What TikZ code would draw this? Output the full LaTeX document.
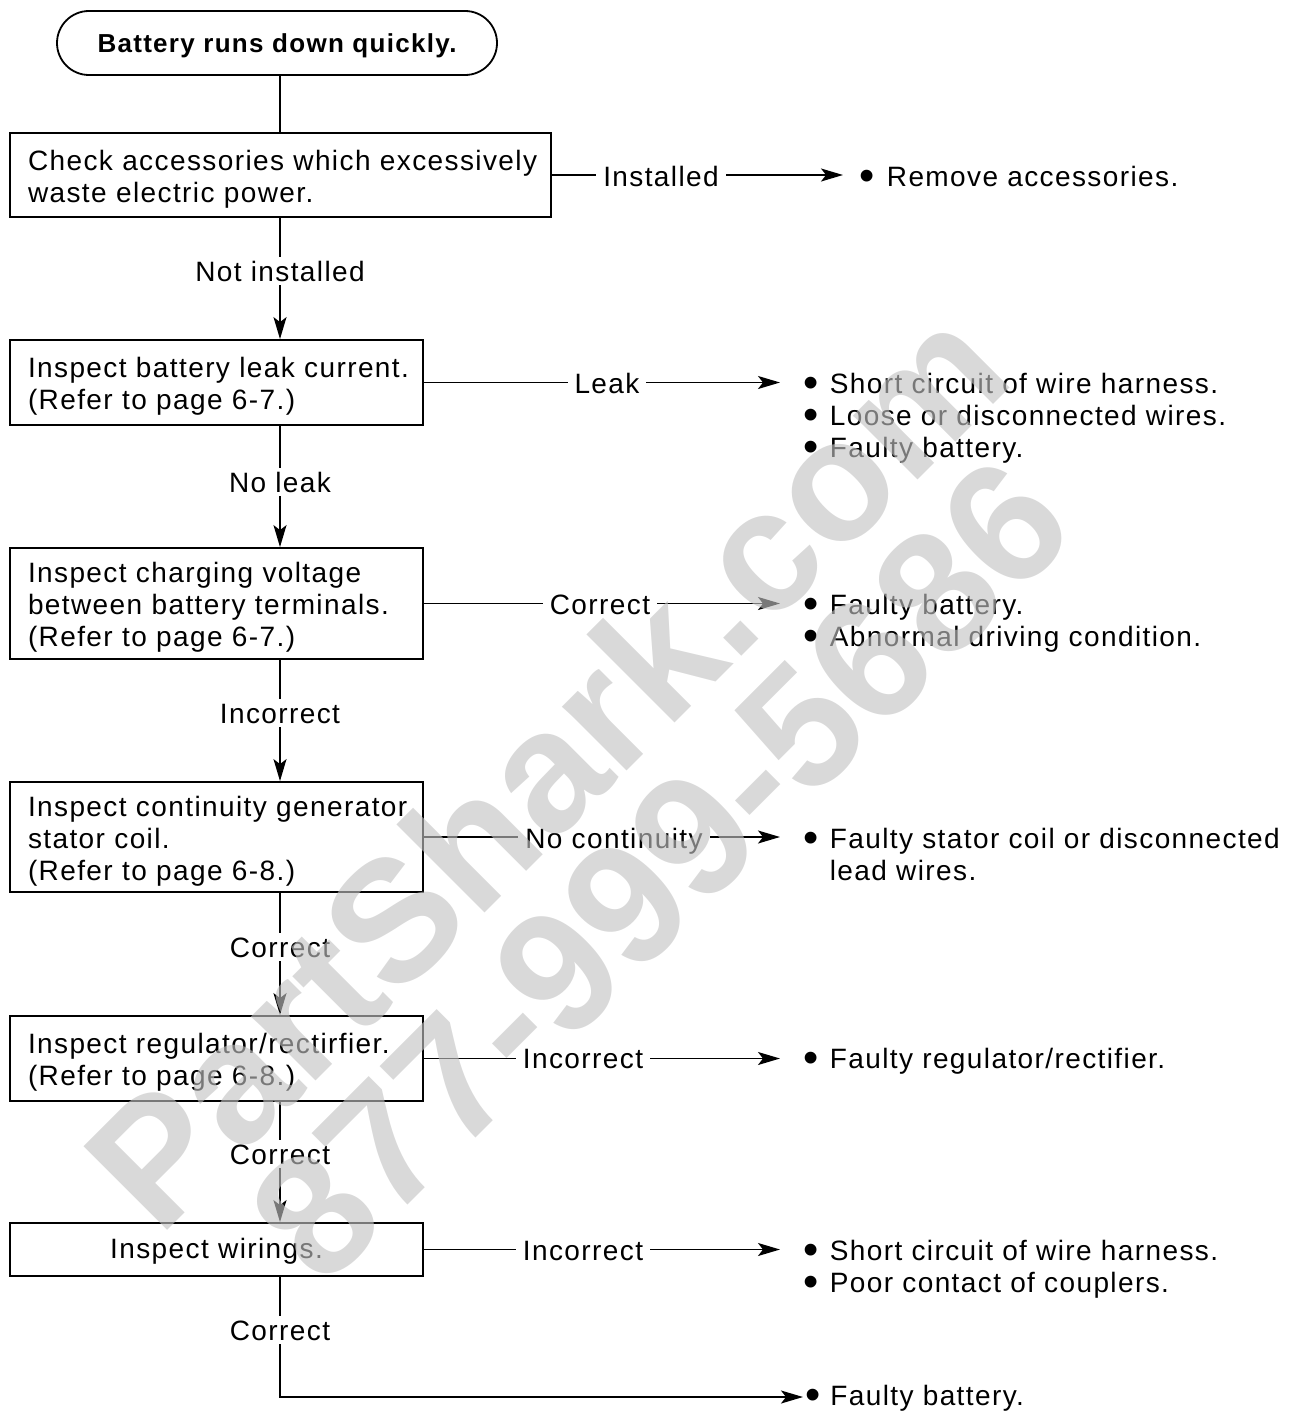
\documentclass[tikz,border=0pt]{standalone}
\usepackage{fontspec}
\usepackage{graphicx}
\setmainfont{Liberation Sans}[LetterSpace=5]
\newfontfamily\wmfont{Liberation Sans}
\usetikzlibrary{arrows.meta,calc}
\newcommand\bul{\raisebox{-4.5pt}{\scalebox{1.55}{•}}}
\newcommand\topstrut[1]{\rule{0pt}{#1}}
\begin{document}
\begin{tikzpicture}[x=1pt,y=-1pt,
  every node/.style={font=\fontsize{28}{32}\selectfont},
  box/.style={draw, line width=1.8pt, inner xsep=18pt, inner ysep=0pt, align=left},
  lbl/.style={fill=white, inner xsep=7pt, inner ysep=4pt, text height=20pt, text depth=0pt},
  conn/.style={line width=1.5pt},
  arr/.style={conn, -{Stealth[length=22pt,width=13pt,inset=5pt]}},
  res/.style={anchor=base west, inner sep=0pt},
  wm/.style={rotate=45, font=\wmfont\bfseries\fontsize{172}{172}\selectfont, text=black!24, opacity=0.62, inner sep=0pt}
]
\useasboundingbox (0,0) rectangle (1302,1413);
\coordinate (sp) at (280,0);

% title and boxes
\node[draw, line width=1.8pt, rounded corners=32pt, minimum width=440pt, minimum height=64pt,
      text height=19pt, text depth=0pt,
      font=\bfseries\fontsize{26}{30}\selectfont] (title) at (277,43) {Battery runs down quickly.};
\node[box, text width=505pt, minimum height=84pt] (b1) at (280.5,175)
  {\topstrut{28pt}\mbox{Check accessories which excessively}\\waste electric power.};
\node[box, text width=377pt, minimum height=85pt] (b2) at (216.5,382.5)
  {\topstrut{28pt}\mbox{Inspect battery leak current.}\\(Refer to page 6-7.)};
\node[box, text width=377pt, minimum height=111pt] (b3) at (216.5,603.5)
  {\topstrut{28pt}Inspect charging voltage\\\mbox{between battery terminals.}\\(Refer to page 6-7.)};
\node[box, text width=377pt, minimum height=110pt] (b4) at (216.5,837)
  {\topstrut{28pt}\mbox{Inspect continuity generator}\\stator coil.\\(Refer to page 6-8.)};
\node[box, text width=377pt, minimum height=85pt] (b5) at (216.5,1058.5)
  {\topstrut{28pt}\mbox{Inspect regulator/rectirfier.}\\(Refer to page 6-8.)};
\node[box, text width=377pt, minimum height=53pt, align=center] (b6) at (216.5,1249.5)
  {\topstrut{24pt}Inspect wirings.};

% results
\node[res] (r1) at (843,186) {\begin{tabular}[t]{@{\hspace{16.5pt}}l@{\hspace{12pt}}l@{}}\bul & Remove accessories.\end{tabular}};
\node[res] (r2) at (780,393) {\begin{tabular}[t]{@{\hspace{23.5pt}}l@{\hspace{11pt}}l@{}}\bul & Short circuit of wire harness.\\ \bul & Loose or disconnected wires.\\ \bul & Faulty battery.\end{tabular}};
\node[res] (r3) at (780,614) {\begin{tabular}[t]{@{\hspace{23.5pt}}l@{\hspace{11pt}}l@{}}\bul & Faulty battery.\\ \bul & Abnormal driving condition.\end{tabular}};
\node[res] (r4) at (780,848) {\begin{tabular}[t]{@{\hspace{23.5pt}}l@{\hspace{11pt}}l@{}}\bul & Faulty stator coil or disconnected\\ & lead wires.\end{tabular}};
\node[res] (r5) at (780,1068) {\begin{tabular}[t]{@{\hspace{23.5pt}}l@{\hspace{11pt}}l@{}}\bul & Faulty regulator/rectifier.\end{tabular}};
\node[res] (r6) at (780,1260) {\begin{tabular}[t]{@{\hspace{23.5pt}}l@{\hspace{11pt}}l@{}}\bul & Short circuit of wire harness.\\ \bul & Poor contact of couplers.\end{tabular}};
\node[res] (r7) at (803,1405) {\hspace*{2pt}\bul\hspace{10pt}Faulty battery.};

% vertical connectors
\draw[conn] (title.south -| sp) -- (b1.north -| sp);
\draw[arr] (b1.south -| sp) -- (b2.north -| sp);
\draw[arr] (b2.south -| sp) -- (b3.north -| sp);
\draw[arr] (b3.south -| sp) -- (b4.north -| sp);
\draw[arr] (b4.south -| sp) -- (b5.north -| sp);
\draw[arr] (b5.south -| sp) -- (b6.north -| sp);
\draw[arr] (b6.south -| sp) |- ($(r7.base west)+(0,-8)$);

% horizontal connectors
\draw[arr] (b1.east) -- (b1.east -| r1.west);
\draw[arr] (b2.east) -- (b2.east -| r2.west);
\draw[arr] (b3.east) -- (b3.east -| r3.west);
\draw[arr] (b4.east) -- (b4.east -| r4.west);
\draw[arr] (b5.east) -- (b5.east -| r5.west);
\draw[arr] (b6.east) -- (b6.east -| r6.west);

% labels
\node[lbl] (l1) at (280,271) {Not installed};
\node[lbl] (l2) at (280,482) {No leak};
\node[lbl] (l3) at (280,713) {Incorrect};
\node[lbl] (l4) at (280,947) {Correct};
\node[lbl] (l5) at (280,1154) {Correct};
\node[lbl] (l6) at (280,1330) {Correct};
\node[lbl] (h1) at (661,176) {Installed};
\node[lbl] (h2) at (607,383) {Leak};
\node[lbl] (h3) at (600,604) {Correct};
\node[lbl] (h4) at (614,838) {No continuity};
\node[lbl] (h5) at (583,1058) {Incorrect};
\node[lbl] (h6) at (583,1250) {Incorrect};

% watermark
\node[wm] (wm1) at (545,766) {PartShark.com};
\node[wm] (wm2) at (660,870) {877-999-5686};
\end{tikzpicture}
\end{document}
